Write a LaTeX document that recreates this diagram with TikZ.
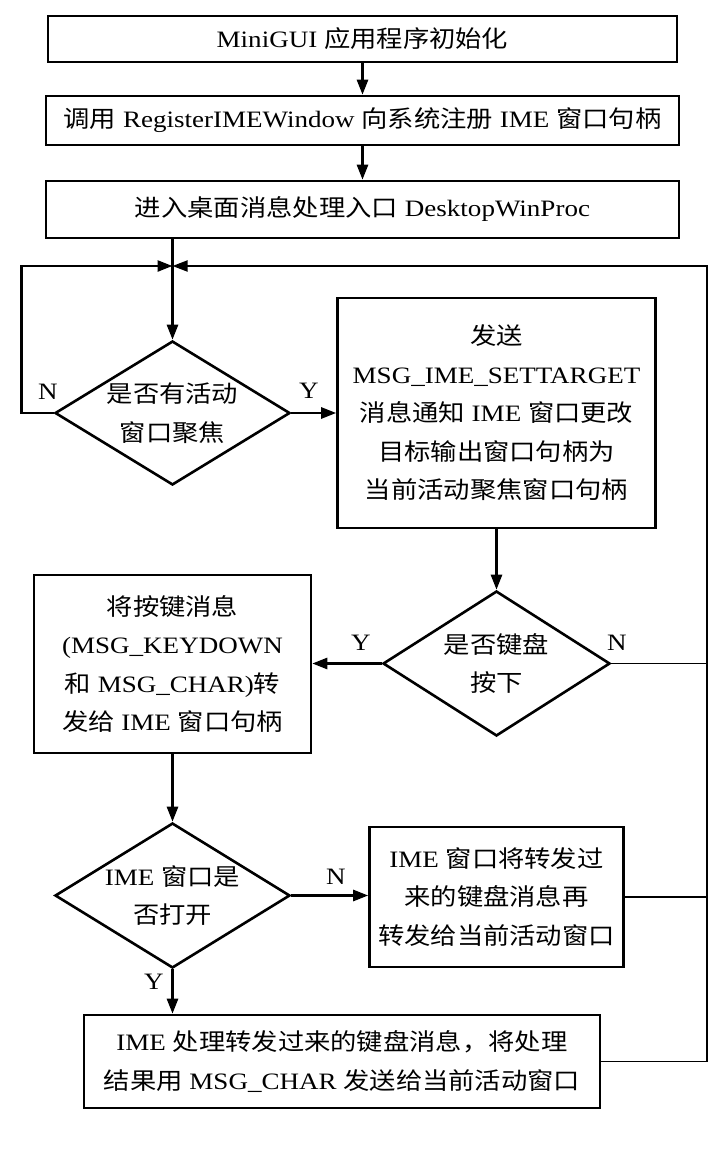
\documentclass[tikz,border=0pt]{standalone}
\usepackage{fontspec}
\setmainfont[FakeStretch=1.15]{Liberation Serif}
\newfontfamily\zh[FakeStretch=1.12]{Noto Sans CJK SC}
\usetikzlibrary{shapes.geometric,arrows.meta}

\begin{document}
\begin{tikzpicture}
  [x=1pt,y=-1pt,line width=2.6pt,>={Triangle[length=15pt,width=11pt]},
   every node/.style={font=\fontsize{23.5}{38.5}\selectfont,align=center,inner sep=0pt},
   box/.style={draw,rectangle},
   test/.style={draw,diamond,aspect=1.6},
   back/.style={line width=1.8pt}]
  \useasboundingbox (0,0) rectangle (717,1157);
  \node[box,minimum width=629,minimum height=46] (init) at (362.5,39) {MiniGUI {\zh 应用程序初始化}};
  \node[box,minimum width=633,minimum height=49] (reg) at (362.5,120.5) {{\zh 调用} RegisterIMEWindow {\zh 向系统注册} IME {\zh 窗口句柄}};
  \node[box,minimum width=633,minimum height=57] (desk) at (362.5,209.5) {{\zh 进入桌面消息处理入口} DesktopWinProc};
  \node[test,minimum width=235,minimum height=144] (q1) at (172.5,413) {{\zh 是否有活动}\\{\zh 窗口聚焦}};
  \node[box,minimum width=318,minimum height=230] (send) at (496.5,413) {{\zh 发送}\\MSG\_IME\_SETTARGET\\{\zh 消息通知} IME {\zh 窗口更改}\\{\zh 目标输出窗口句柄为}\\{\zh 当前活动聚焦窗口句柄}};
  \node[test,minimum width=227,minimum height=145] (q2) at (496.5,663.5) {{\zh 是否键盘}\\{\zh 按下}};
  \node[box,minimum width=277,minimum height=178] (keys) at (172.5,664) {{\zh 将按键消息}\\(MSG\_KEYDOWN\\{\zh 和} MSG\_CHAR){\zh 转}\\{\zh 发给} IME {\zh 窗口句柄}};
  \node[test,minimum width=235,minimum height=145] (q3) at (172.5,895.5) {IME {\zh 窗口是}\\{\zh 否打开}};
  \node[box,minimum width=254,minimum height=140] (fwd) at (496.5,897) {IME {\zh 窗口将转发过}\\{\zh 来的键盘消息再}\\{\zh 转发给当前活动窗口}};
  \node[box,minimum width=516,minimum height=93] (done) at (342,1061.5) {IME {\zh 处理转发过来的键盘消息，将处理}\\{\zh 结果用} MSG\_CHAR {\zh 发送给当前活动窗口}};

  \node (n1) at (48,392) {N};
  \node (y1) at (309,391) {Y};
  \node (y2) at (361,643) {Y};
  \node (n2) at (617,643) {N};
  \node (n3) at (336,877) {N};
  \node (y3) at (154,982) {Y};

  \coordinate (join) at (172.5,266);
  \coordinate (ret) at (706.7,266);

  \foreach \from/\to in {init/reg,reg/desk,send/q2,keys/q3}
    \draw[->] (\from) -- (\to);
  \draw[->] (desk.south -| q1) -- (q1.north);
  \draw[->] (q1.west) -- ++(-32,0) |- (join);
  \draw[back,->] (done.east) -| (ret) -- (join);
  \draw[back] (q2.east) -- (q2.east -| ret);
  \draw[back] (fwd.east) -- (fwd.east -| ret);
  \draw[->] (q1.east) -- (q1.east -| send.west);
  \draw[->] (q2.west) -- (q2.west -| keys.east);
  \draw[->] (q3.east) -- (q3.east -| fwd.west);
  \draw[->] (q3.south) -- (q3.south |- done.north);
\end{tikzpicture}
\end{document}
